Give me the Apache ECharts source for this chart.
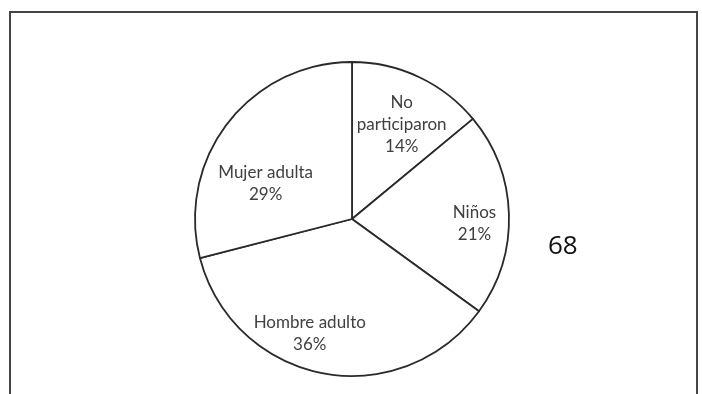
<!DOCTYPE html>
<html>
<head>
<meta charset="utf-8">
<script src="https://cdn.jsdelivr.net/npm/echarts@6/dist/echarts.min.js"></script>
<style>
  html, body { margin: 0; padding: 0; background: #fff; }
  #chartPie { width: 702px; height: 394px; }
</style>
</head>
<body>
<div id="chartPie"></div>
<script>
// datos del grafico
const categories = ["No\nparticiparon", "Niños", "Hombre adulto", "Mujer adulta"];
const values = [14, 21, 36, 29];
const sideNote = "68";

// desplazamiento de cada etiqueta respecto a la posicion "inside"
const labelShift = [[15, -21], [41, 7], [-27, 34], [-22, 14]];

const chartPie = echarts.init(document.getElementById("chartPie"));

const options = {
  animation: false,
  backgroundColor: "#fff",
  graphic: [
    {
      type: "polyline",
      shape: { points: [[10, 400], [10, 12], [697, 12], [697, 400]] },
      style: { stroke: "#444", lineWidth: 2, fill: null }
    },
    {
      type: "text",
      left: 548,
      top: 234,
      style: { text: sideNote, font: "26px 'Open Sans'", fill: "#111" }
    }
  ],
  series: [{
    type: "pie",
    center: [352, 219],
    radius: [0, 157],
    startAngle: 90,
    clockwise: true,
    silent: true,
    itemStyle: { color: "#fff", borderColor: "#2a2a2a", borderWidth: 1.8 },
    label: {
      show: true,
      position: "inside",
      formatter: "{b}\n{d}%",
      fontFamily: "Lato",
      fontSize: 17,
      lineHeight: 22,
      color: "#404040",
      align: "center"
    },
    labelLine: { show: false },
    labelLayout: function (p) {
      const s = labelShift[p.dataIndex];
      return { dx: s[0], dy: s[1] };
    },
    emphasis: { disabled: true },
    data: categories.map((c, i) => ({ name: c, value: values[i] }))
  }]
};

chartPie.setOption(options, true);
</script>
</body>
</html>
